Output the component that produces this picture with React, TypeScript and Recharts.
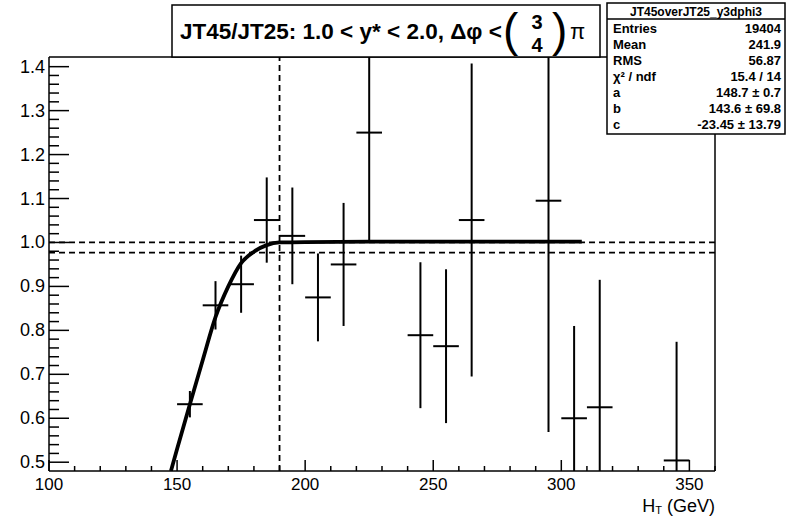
import React from 'react';
import {
  ComposedChart,
  Line,
  Scatter,
  ErrorBar,
  XAxis,
  YAxis,
  ReferenceLine,
} from 'recharts';

// Trigger efficiency ratio JT45/JT25 per 10 GeV H_T bin
const binCenters = [155, 165, 175, 185, 195, 205, 215, 225, 245, 255, 265, 295, 305, 315, 345];
const ratioValues = [0.632, 0.857, 0.905, 1.051, 1.015, 0.875, 0.95, 1.25, 0.789, 0.764, 1.051, 1.095, 0.6, 0.625, 0.504];
const ratioErrors = [0.03, 0.055, 0.065, 0.097, 0.11, 0.1, 0.14, 0.25, 0.166, 0.175, 0.356, 0.526, 0.21, 0.29, 0.27];
const binHalfWidths = [5, 5, 5, 5, 5, 5, 5, 5, 5, 5, 5, 5, 5, 5, 5];

// fitted turn-on curve
const fitX = [147.6, 150, 155, 160, 165, 170, 175, 180, 185, 190, 200, 250, 308];
const fitY = [0.48, 0.53, 0.632, 0.732, 0.83, 0.9, 0.953, 0.979, 0.994, 1.0, 1.001, 1.002, 1.002];

const plateauLines = [1.0, 0.977];
const thresholdX = [190];

const xMajor = [100, 150, 200, 250, 300, 350];
const yMajor = [0.5, 0.6, 0.7, 0.8, 0.9, 1.0, 1.1, 1.2, 1.3, 1.4];
const X_DOMAIN: [number, number] = [100, 360];
const Y_DOMAIN: [number, number] = [0.48, 1.422];

const statsTitle = 'JT45overJT25_y3dphi3';
const statsRows = [
  ['Entries', '19404'],
  ['Mean', '241.9'],
  ['RMS', '56.87'],
  ['χ² / ndf', '15.4 / 14'],
  ['a', '148.7 ± 0.7'],
  ['b', '143.6 ± 69.8'],
  ['c', '-23.45 ± 13.79'],
];

const W = 795;
const H = 519;
const M = { top: 57, right: 80, bottom: 0, left: 0 };
const Y_AXIS_W = 49;
const X_AXIS_H = 48;
const PLOT_LEFT = Y_AXIS_W;
const PLOT_BOTTOM = H - X_AXIS_H;
const FONT = '"Liberation Sans", Arial, Helvetica, sans-serif';

const xTicks: number[] = [];
for (let v = X_DOMAIN[0]; v <= X_DOMAIN[1]; v += 10) xTicks.push(v);
const yTicks: number[] = [];
for (let i = 0; i <= 45; i++) yTicks.push(+(0.5 + i * 0.02).toFixed(2));

// error bars are cut at the frame, like ROOT does
const points = binCenters.map((x, i) => {
  const y = ratioValues[i];
  const e = ratioErrors[i];
  return {
    x,
    y,
    ey: [Math.min(e, y - Y_DOMAIN[0]), Math.min(e, Y_DOMAIN[1] - y)],
    ex: binHalfWidths[i],
  };
});
const fitData = fitX.map((x, i) => ({ x, y: fitY[i] }));

const XTick = (props: any) => {
  const v = props.payload.value;
  const cx = props.payload.coordinate ?? props.x;
  const major = xMajor.includes(v);
  return (
    <g>
      <line x1={cx} x2={cx} y1={PLOT_BOTTOM} y2={PLOT_BOTTOM - (major ? 11 : 5)} stroke="#000" strokeWidth={1.5} />
      {major && (
        <text x={cx} y={PLOT_BOTTOM + 13} textAnchor="middle" dominantBaseline="central" fontSize={17} fontFamily={FONT} fill="#000">
          {v}
        </text>
      )}
    </g>
  );
};

const YTick = (props: any) => {
  const v = props.payload.value;
  const cy = props.payload.coordinate ?? props.y;
  const major = yMajor.some((m) => Math.abs(m - v) < 1e-6);
  return (
    <g>
      <line x1={PLOT_LEFT} x2={PLOT_LEFT + (major ? 20 : 10)} y1={cy} y2={cy} stroke="#000" strokeWidth={1.5} />
      {major && (
        <text x={PLOT_LEFT - 4} y={cy} textAnchor="end" dominantBaseline="central" fontSize={18} fontFamily={FONT} fill="#000">
          {v.toFixed(1)}
        </text>
      )}
    </g>
  );
};

const NoDot = () => <g />;

export default function App() {
  return (
    <div style={{ position: 'absolute', left: 0, top: 0, width: W, height: H, background: '#fff' }}>
      <ComposedChart width={W} height={H} margin={M}>
        <XAxis
          type="number"
          dataKey="x"
          domain={X_DOMAIN}
          allowDataOverflow
          ticks={xTicks}
          interval={0}
          tick={<XTick />}
          tickLine={false}
          axisLine={{ stroke: '#000', strokeWidth: 1.5 }}
          height={X_AXIS_H}
        />
        <YAxis
          type="number"
          dataKey="y"
          domain={Y_DOMAIN}
          allowDataOverflow
          ticks={yTicks}
          interval={0}
          tick={<YTick />}
          tickLine={false}
          axisLine={{ stroke: '#000', strokeWidth: 1.5 }}
          width={Y_AXIS_W}
        />
        <ReferenceLine y={Y_DOMAIN[1]} stroke="#000" strokeWidth={1.5} />
        <ReferenceLine x={X_DOMAIN[1]} stroke="#000" strokeWidth={1.5} />
        {plateauLines.map((v) => (
          <ReferenceLine key={v} y={v} stroke="#000" strokeWidth={1.8} strokeDasharray="6 4" />
        ))}
        {thresholdX.map((v) => (
          <ReferenceLine key={v} x={v} stroke="#000" strokeWidth={1.8} strokeDasharray="6 4" />
        ))}
        <Scatter data={points} shape={<NoDot />} isAnimationActive={false}>
          <ErrorBar dataKey="ey" direction="y" width={0} stroke="#000" strokeWidth={2} isAnimationActive={false} />
          <ErrorBar dataKey="ex" direction="x" width={0} stroke="#000" strokeWidth={2} isAnimationActive={false} />
        </Scatter>
        <Line
          data={fitData}
          dataKey="y"
          type="monotone"
          stroke="#000"
          strokeWidth={3.8}
          dot={false}
          activeDot={false}
          isAnimationActive={false}
        />
      </ComposedChart>

      <svg width={W} height={H} style={{ position: 'absolute', left: 0, top: 0, pointerEvents: 'none' }}>
        {/* title pave */}
        <rect x={172} y={5} width={428} height={52} fill="#fff" stroke="#000" strokeWidth={1.5} />
        <text x={180} y={39} fontFamily={FONT} fontWeight="bold" fontSize={22.5} fill="#000">
          JT45/JT25: 1.0 &lt; y* &lt; 2.0, Δφ &lt;
        </text>
        <text x={503} y={46} fontFamily={FONT} fontSize={46} fill="#000">(</text>
        <text x={537} y={29} fontFamily={FONT} fontWeight="bold" fontSize={20} textAnchor="middle" fill="#000">3</text>
        <text x={537} y={52} fontFamily={FONT} fontWeight="bold" fontSize={20} textAnchor="middle" fill="#000">4</text>
        <text x={552} y={46} fontFamily={FONT} fontSize={46} fill="#000">)</text>
        <text x={570} y={39} fontFamily={FONT} fontSize={22} fill="#000">π</text>

        {/* stats box */}
        <rect x={607} y={3} width={178} height={131} fill="#fff" stroke="#000" strokeWidth={1.5} />
        <line x1={607} x2={785} y1={19} y2={19} stroke="#000" strokeWidth={1.3} />
        <text x={696} y={11.5} textAnchor="middle" dominantBaseline="central" fontFamily={FONT} fontWeight="bold" fontSize={12} fill="#000">
          {statsTitle}
        </text>
        {statsRows.map(([k, v], i) => (
          <g key={k}>
            <text x={613} y={28 + i * 16} dominantBaseline="central" fontFamily={FONT} fontWeight="bold" fontSize={13} fill="#000">
              {k}
            </text>
            <text x={781} y={28 + i * 16} textAnchor="end" dominantBaseline="central" fontFamily={FONT} fontWeight="bold" fontSize={13} fill="#000">
              {v}
            </text>
          </g>
        ))}

        {/* axis title */}
        <text x={715} y={506} textAnchor="end" dominantBaseline="central" fontFamily={FONT} fontSize={18} fill="#000">
          H<tspan fontSize={11} dy={4}>T</tspan>
          <tspan dy={-4}> (GeV)</tspan>
        </text>
      </svg>
    </div>
  );
}
